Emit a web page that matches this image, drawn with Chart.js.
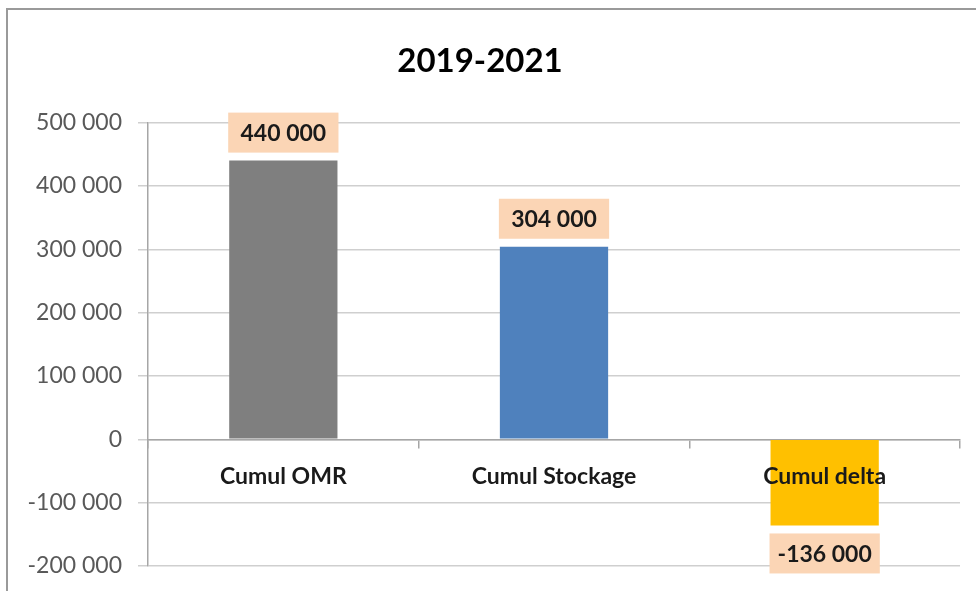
<!DOCTYPE html>
<html>
<head>
<meta charset="utf-8">
<script src="https://cdn.jsdelivr.net/npm/chart.js@4/dist/chart.umd.min.js"></script>
<style>
  html, body { margin: 0; padding: 0; background: #fff; }
  #wrap { position: relative; width: 976px; height: 591px; }
  #frame { position: absolute; left: 6px; top: 8px; width: 980px; height: 600px;
           border-left: 2px solid #9a9a9a; border-top: 2px solid #9a9a9a; box-sizing: border-box; pointer-events: none; }
  canvas { position: absolute; left: 0; top: 0; }
</style>
</head>
<body>
<div id="wrap">
  <canvas id="c" width="976" height="591"></canvas>
  <div id="frame"></div>
</div>
<script>
const title = "2019-2021";
const categories = ["Cumul OMR", "Cumul Stockage", "Cumul delta"];
const values = [440000, 304000, -136000];
const barColors = ["#7F7F7F", "#4F81BD", "#FFC000"];
const yMin = -200000, yMax = 500000, yStep = 100000;

const FONT = "Lato, 'Open Sans', sans-serif";

function fmt(v) {
  const s = String(Math.abs(Math.round(v))).replace(/\B(?=(\d{3})+(?!\d))/g, " ");
  return (v < 0 ? "-" : "") + s;
}

const labelBoxes = {
  id: "labelBoxes",
  afterDatasetsDraw(chart) {
    const ctx = chart.ctx;
    const meta = chart.getDatasetMeta(0);
    ctx.save();
    ctx.font = "bold 23px " + FONT;
    ctx.textAlign = "center";
    ctx.textBaseline = "middle";
    meta.data.forEach((bar, i) => {
      const v = values[i];
      const props = bar.getProps(["x", "y", "base", "width"], true);
      const w = props.width + 2;
      const h = 40, gap = 8;
      const x0 = props.x - w / 2;
      let y0;
      if (v >= 0) y0 = props.y - gap - h;
      else y0 = props.y + gap;
      ctx.fillStyle = "#FBD5B5";
      ctx.fillRect(x0, y0, w, h);
      ctx.fillStyle = "#1a1a1a";
      ctx.fillText(fmt(v), props.x, y0 + h / 2 + 1);
    });
    ctx.restore();
  }
};

new Chart(document.getElementById("c"), {
  type: "bar",
  data: {
    labels: categories,
    datasets: [{
      data: values,
      backgroundColor: barColors,
      borderWidth: 0,
      barPercentage: 0.4,
      categoryPercentage: 1.0
    }]
  },
  options: {
    responsive: false,
    animation: false,
    layout: { padding: { left: 0, right: 16, top: 0, bottom: 25 } },
    plugins: {
      legend: { display: false },
      tooltip: { enabled: false },
      title: {
        display: true,
        text: title,
        color: "#000",
        font: { family: FONT, size: 33, weight: "bold" },
        padding: { top: 42, bottom: 41 }
      }
    },
    scales: {
      x: {
        position: { y: 0 },
        grid: { drawOnChartArea: false, drawTicks: true, tickLength: 8, color: "#a6a6a6", lineWidth: 1.5, offset: true },
        border: { display: true, color: "#a6a6a6", width: 1.5 },
        ticks: { z: 1, color: "#1a1a1a", padding: 15, font: { family: FONT, size: 23, weight: "bold" } }
      },
      y: {
        min: yMin,
        max: yMax,
        afterFit(scale) { scale.width = 148; scale.paddingTop = 0; scale.paddingBottom = 0; },
        grid: { color: "#cfcfcf", lineWidth: 1.5, tickLength: 10 },
        border: { display: true, color: "#a6a6a6", width: 1.5 },
        ticks: {
          stepSize: yStep,
          color: "#595959",
          padding: 16,
          font: { family: FONT, size: 23 },
          callback: (v) => fmt(v)
        }
      }
    }
  },
  plugins: [labelBoxes]
});
</script>
</body>
</html>
